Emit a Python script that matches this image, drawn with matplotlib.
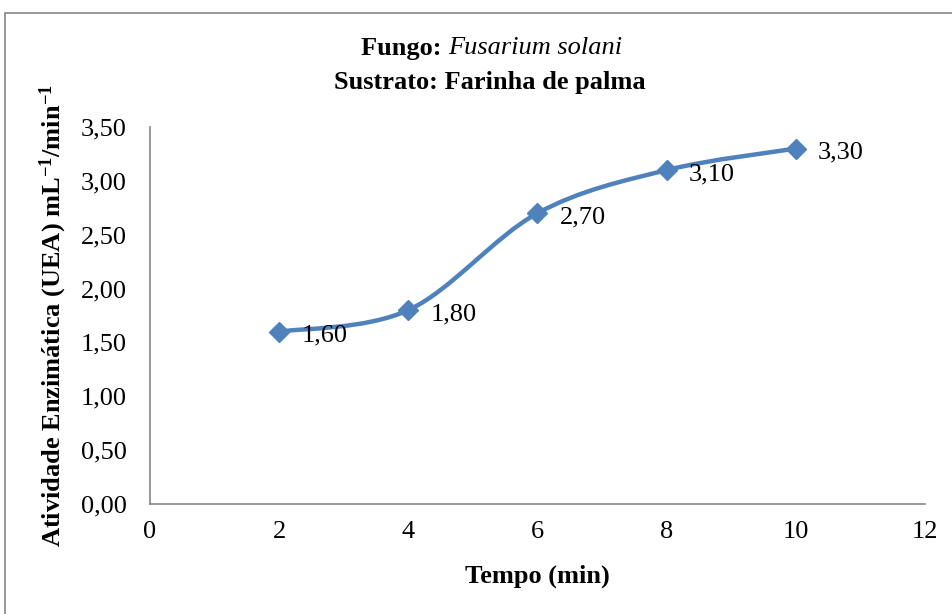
import numpy as np
import matplotlib
matplotlib.use('Agg')
import matplotlib.pyplot as plt
from matplotlib.path import Path
from matplotlib.patches import PathPatch, Rectangle
from matplotlib.ticker import FuncFormatter, MultipleLocator

# ---------- data ---------- #
tempo = [2, 4, 6, 8, 10]
atividade = [1.60, 1.80, 2.70, 3.10, 3.30]
xTicks = [0, 2, 4, 6, 8, 10, 12]

lineColor = '#4F81BD'
axisColor = '#868686'
fs = 19

plt.rcParams['font.family'] = ['Liberation Serif', 'DejaVu Serif']
plt.rcParams['mathtext.fontset'] = 'custom'
plt.rcParams['mathtext.rm'] = 'Liberation Serif'
plt.rcParams['mathtext.it'] = 'Liberation Serif:italic'
plt.rcParams['mathtext.bf'] = 'Liberation Serif:bold'

fig = plt.figure(figsize=(9.53, 6.14), dpi=100)
W, H = 953, 614

# outer chart border (Excel chart area)
fig.patches.append(Rectangle((5 / W, -0.05), 1.1, 1 - 13 / H + 0.05,
                             transform=fig.transFigure, fill=False,
                             edgecolor=axisColor, linewidth=1.2))

ax = fig.add_axes([150 / W, 1 - 504 / H, 775 / W, 377 / H])

# smoothed line like Excel (cubic Bezier, Catmull-Rom control points)
pts = np.column_stack([tempo, atividade]).astype(float)
n = len(pts)
verts = [pts[0]]
codes = [Path.MOVETO]
for i in range(n - 1):
    p0 = pts[max(i - 1, 0)]
    p1 = pts[i]
    p2 = pts[i + 1]
    p3 = pts[min(i + 2, n - 1)]
    verts += [p1 + (p2 - p0) / 6, p2 - (p3 - p1) / 6, p2]
    codes += [Path.CURVE4] * 3
ax.add_patch(PathPatch(Path(verts, codes), fill=False, edgecolor=lineColor,
                       linewidth=3.2, capstyle='round', joinstyle='round'))

ax.plot(tempo, atividade, linestyle='none', marker='D', markersize=10,
        color=lineColor, zorder=3)

for x, y in zip(tempo, atividade):
    ax.annotate(('%.2f' % y).replace('.', ','), xy=(x, y), xytext=(16, -3),
                textcoords='offset points', ha='left', va='center',
                fontsize=fs)

ax.set_xlim(0, 12)
ax.set_ylim(0, 3.5)
ax.set_xticks(xTicks)
ax.yaxis.set_major_locator(MultipleLocator(0.5))
ax.yaxis.set_major_formatter(FuncFormatter(lambda v, p: ('%.2f' % v).replace('.', ',')))
ax.tick_params(axis='both', length=0, labelsize=fs)
ax.tick_params(axis='x', pad=12)
ax.tick_params(axis='y', pad=17)

for s in ['top', 'right']:
    ax.spines[s].set_visible(False)
for s in ['left', 'bottom']:
    ax.spines[s].set_color(axisColor)
    ax.spines[s].set_linewidth(1.2)

ax.set_xlabel('Tempo (min)', fontsize=fs, fontweight='bold')
ax.xaxis.set_label_coords(0.5, -0.16)
ax.set_ylabel(r'Atividade Enzimática (UEA) mL$^{\mathbf{-1}}$/min$^{\mathbf{-1}}$',
              fontsize=fs, fontweight='bold')
ax.yaxis.set_label_coords(-0.105, 0.5)

# title: bold "Fungo:" + italic species name, centred together
renderer = fig.canvas.get_renderer()
t1 = fig.text(0, 1 - 48 / H, 'Fungo: ', ha='left', va='center',
              fontsize=fs, fontweight='bold')
t2 = fig.text(0, 1 - 48 / H, 'Fusarium solani', ha='left', va='center',
              fontsize=fs, fontstyle='italic')
w1 = t1.get_window_extent(renderer).width
w2 = t2.get_window_extent(renderer).width
x0 = 492 - (w1 + w2) / 2
t1.set_x(x0 / W)
t2.set_x((x0 + w1) / W)
fig.text(490 / W, 1 - 82 / H, 'Sustrato: Farinha de palma', ha='center',
         va='center', fontsize=fs, fontweight='bold')

plt.savefig('out.png', dpi=100)
